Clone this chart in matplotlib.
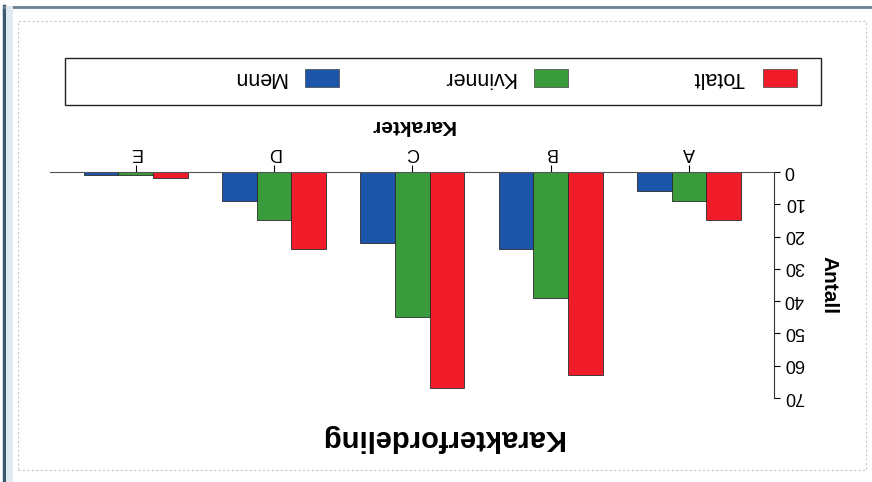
import numpy as np
import matplotlib
matplotlib.use("Agg")
import matplotlib.pyplot as plt
from matplotlib.patches import Rectangle
from matplotlib.lines import Line2D

plt.rcParams["font.family"] = ["Liberation Sans", "DejaVu Sans"]

# data (the scanned chart is upside down, so everything is drawn rotated 180 deg)
categories = ["A", "B", "C", "D", "E"]
menn = [6, 24, 22, 9, 1]
kvinner = [9, 39, 45, 15, 1]
totalt = [15, 63, 67, 24, 2]
series_names = ["Menn", "Kvinner", "Totalt"]
y_ticks = [0, 10, 20, 30, 40, 50, 60, 70]

COLORS = ["#1d55aa", "#3a9b3c", "#f01c2a"]
W, H = 872, 482


def px(x, y):
    # pixel position (from top left) -> figure fraction
    return x / W, 1 - y / H


fig = plt.figure(figsize=(W / 100, H / 100), dpi=100)
fig.patch.set_facecolor("white")

# scanned page frame
fig.add_artist(Line2D([4 / W, 4 / W], [0, 1 - 6 / H], color="#3c5a6e", lw=2.5,
                      transform=fig.transFigure))
fig.add_artist(Line2D([4 / W, 1], [1 - 7 / H, 1 - 7 / H], color="#6a8390", lw=2,
                      transform=fig.transFigure))
fig.add_artist(Line2D([9 / W, 9 / W], [0, 1 - 9 / H], color="#dfeaf0", lw=5,
                      transform=fig.transFigure))
x0, y0 = px(18, 470)
x1, y1 = px(866, 21)
fig.add_artist(Rectangle((x0, y0), x1 - x0, y1 - y0, fill=False, ec="#c8c8c8",
                         lw=0.8, ls=(0, (2, 2)), transform=fig.transFigure))

# plot area
left, bottom = px(50, 398)
right, top = px(774, 172)
ax = fig.add_axes([left, bottom, right - left, top - bottom])

x = np.arange(len(categories))
width = 0.25
values = [menn, kvinner, totalt]
offsets = [width, 0, -width]
for vals, off, col, name in zip(values, offsets, COLORS, series_names):
    ax.bar(x + off, vals, width, color=col, edgecolor="#2a2a2a", linewidth=0.6,
           label=name)

ax.set_xlim(4.62, -0.615)
ax.set_ylim(70, 0)
ax.set_yticks(y_ticks)
ax.set_xticks(x)
ax.set_xticklabels(categories)

ax.xaxis.tick_top()
ax.yaxis.tick_right()
for side in ["left", "bottom"]:
    ax.spines[side].set_visible(False)
ax.spines["top"].set_color("#555555")
ax.spines["right"].set_color("#333333")
ax.tick_params(axis="y", direction="out", length=4, width=0.8, pad=3,
               labelsize=13)
ax.tick_params(axis="x", direction="out", length=5, width=0.8, pad=3,
               labelsize=13, labelrotation=180)
# upside-down tick labels, anchored so the digits sit centred on the ticks
ax.set_yticklabels([str(v) for v in y_ticks], rotation=180, rotation_mode="anchor",
                   ha="right", va="center_baseline")

ax.xaxis.set_label_position("top")
ax.set_xlabel("Karakter", fontsize=15, fontweight="bold", rotation=180, labelpad=9)
ax.yaxis.set_label_position("right")
ax.set_ylabel("Antall", fontsize=15, fontweight="bold", rotation=270, labelpad=18,
              va="center")

# title at the bottom, upside down
tx, ty = px(441, 438)
fig.text(tx, ty, "Karakterfordeling", rotation=180, ha="center", va="center",
         fontsize=21, fontweight="bold")

# legend box, drawn by hand because the entries are upside down
lx0, ly0 = px(65, 105)
lx1, ly1 = px(821, 58)
fig.add_artist(Rectangle((lx0, ly0), lx1 - lx0, ly1 - ly0, fill=False, ec="#222222",
                         lw=1.0, transform=fig.transFigure))
patch_right = [339, 568, 797]
for name, col, pr in zip(series_names, COLORS, patch_right):
    rx0, ry0 = px(pr - 34, 87)
    rx1, ry1 = px(pr, 69)
    fig.add_artist(Rectangle((rx0, ry0), rx1 - rx0, ry1 - ry0, fc=col, ec="#444444",
                             lw=0.5, transform=fig.transFigure))
    ttx, tty = px(pr - 53, 77)
    fig.text(ttx, tty, name, rotation=180, ha="right", va="center", fontsize=15.5)

fig.savefig("out.png", dpi=100)
